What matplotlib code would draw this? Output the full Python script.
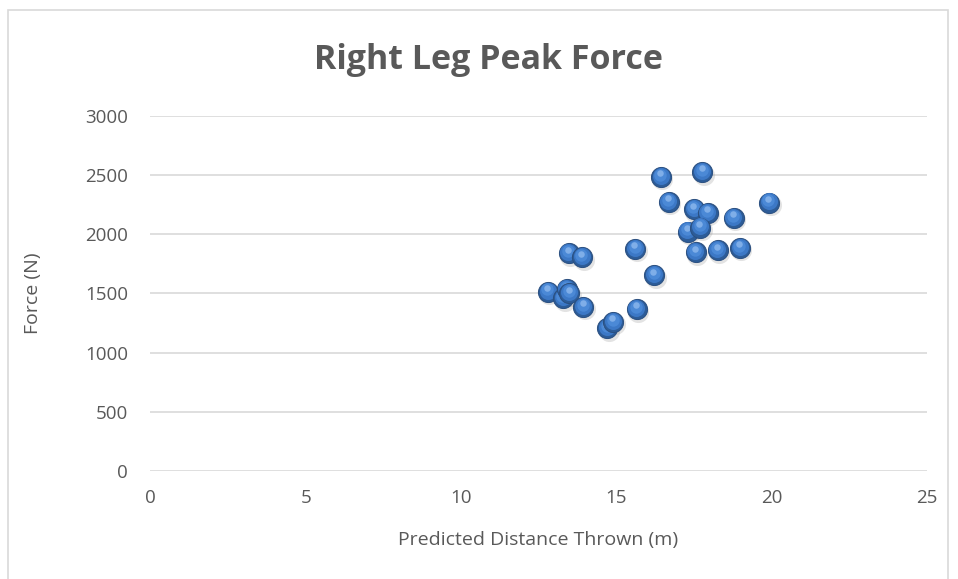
import matplotlib
matplotlib.use("Agg")
import matplotlib.pyplot as plt
import matplotlib.transforms as mtransforms
from matplotlib.patches import Rectangle

distance = [16.44, 17.77, 16.69, 17.50, 17.94, 18.78, 19.92, 17.30, 17.70,
            17.56, 18.27, 18.98, 13.47, 13.90, 15.61, 16.22, 12.80, 13.29,
            13.40, 13.49, 13.94, 15.65, 14.71, 14.90]
force = [2483, 2523, 2272, 2208, 2179, 2137, 2267, 2022, 2056,
         1845, 1862, 1884, 1837, 1803, 1876, 1651, 1514, 1457,
         1533, 1499, 1386, 1367, 1204, 1260]
x_ticks = [0, 5, 10, 15, 20, 25]
y_ticks = [0, 500, 1000, 1500, 2000, 2500, 3000]
title = "Right Leg Peak Force"
x_label = "Predicted Distance Thrown (m)"
y_label = "Force (N)"

plt.rcParams['font.family'] = ['Open Sans', 'DejaVu Sans']
W, H = 958, 579
fig = plt.figure(figsize=(W / 100, H / 100), dpi=100)
fig.patches.append(Rectangle((8 / W, -0.01), (948 - 8) / W, (579 - 10) / H + 0.01,
                             transform=fig.transFigure, fill=False,
                             edgecolor='#D9D9D9', linewidth=1.2))

ax = fig.add_axes([150.3 / W, 108 / H, (927 - 150.3) / W, (471 - 115.7) / H])
ax.set_xlim(0, 25)
ax.set_ylim(0, 3000)
ax.set_xticks(x_ticks)
ax.set_yticks(y_ticks)
ax.set_xticklabels([str(v) for v in x_ticks])
ax.set_yticklabels([str(v) for v in y_ticks])
for s in ax.spines.values():
    s.set_visible(False)
ax.grid(axis='y', color='#D9D9D9', linewidth=1.2)
ax.set_axisbelow(True)
ax.tick_params(length=0, labelsize=13.5, labelcolor='#595959')
ax.tick_params(axis='x', pad=13)
ax.tick_params(axis='y', pad=16)

def off(dx, dy):
    return ax.transData + mtransforms.ScaledTranslation(dx / 72, dy / 72, fig.dpi_scale_trans)

for x, y in zip(distance, force):
    ax.scatter([x], [y], s=230, color='#808080', alpha=0.22, linewidths=0,
               transform=off(1.0, -1.8), zorder=2)
    ax.scatter([x], [y], s=210, color='#2D5C98', linewidths=0.7,
               edgecolors='#2A4F80', zorder=3)
    ax.scatter([x], [y], s=150, color='#3C78C6', linewidths=0,
               transform=off(-0.3, 0.8), zorder=3)
    ax.scatter([x], [y], s=80, color='#4B89D6', linewidths=0,
               transform=off(-0.5, 1.6), zorder=3)
    ax.scatter([x], [y], s=22, color='#7FAEE8', linewidths=0,
               transform=off(-0.6, 2.8), zorder=3)

fig.text(488 / W, 1 - 60 / H, title, ha='center', va='center', fontsize=24.5,
         fontweight='bold', color='#595959')
fig.text(538 / W, 1 - 540 / H, x_label, ha='center', va='center', fontsize=14,
         color='#595959')
fig.text(33 / W, 1 - 293 / H, y_label, ha='center', va='center', fontsize=14,
         color='#595959', rotation=90)

fig.savefig('out.png', dpi=100)
